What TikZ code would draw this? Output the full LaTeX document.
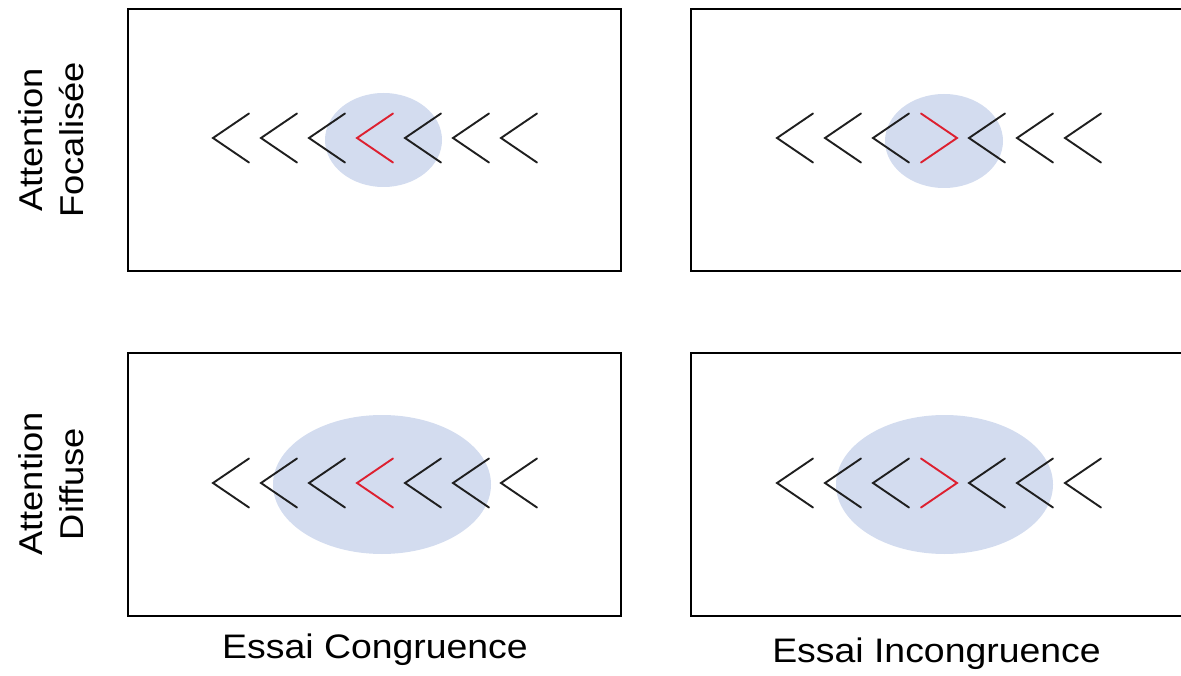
\documentclass[tikz,border=0pt]{standalone}
\usepackage{fontspec}
\setmainfont{Liberation Sans}
\newfontfamily\labelfont[FakeStretch=1.1]{Liberation Sans}
\usetikzlibrary{positioning}
\definecolor{spot}{RGB}{211,220,239}
\definecolor{flankred}{RGB}{221,32,48}

\begin{document}
\begin{tikzpicture}[
  x=1pt,y=-1pt,
  panel/.style={draw=black,line width=2.5pt},
  focus/.style={fill=spot,draw=none},
  chev/.style={draw=black!88,line width=1.9pt,line cap=round,line join=miter},
  target/.style={chev,draw=flankred},
  rowlab/.style={rotate=90,align=center,inner sep=0pt,
    font=\labelfont\fontsize{33}{41}\selectfont},
  collab/.style={anchor=base,inner sep=0pt,
    font=\labelfont\fontsize{34}{38}\selectfont}
]
\useasboundingbox (0,0) rectangle (1181,676);
% four trial panels (right ones run off the page)
\foreach \xa/\xb in {128/621,691/1195}{
  \foreach \ya/\yb in {9/271,353/616}{
    \draw[panel] (\xa,\ya) rectangle (\xb,\yb);
  }
}
% attention spotlights
\fill[focus] (383.5,140) ellipse [x radius=58.5,y radius=47];
\fill[focus] (944,141) ellipse [x radius=59,y radius=47];
\fill[focus] (382,484.5) ellipse [x radius=109,y radius=69.5];
\fill[focus] (944.5,484.5) ellipse [x radius=108.5,y radius=69.5];
% flanker chevrons
\foreach \ox/\oy in {213/138,777/138,213/483,777/483}{
  \foreach \k in {0,1,2,4,5,6}{
    \draw[chev] ({\ox+48*\k+36},{\oy-24.5}) -- ({\ox+48*\k},\oy) -- ({\ox+48*\k+36},{\oy+24.5});
  }
}
% central targets
\draw[target] (393,113.5) -- (357,138) -- (393,162.5);
\draw[target] (921,113.5) -- (957,138) -- (921,162.5);
\draw[target] (393,458.5) -- (357,483) -- (393,507.5);
\draw[target] (921,458.5) -- (957,483) -- (921,507.5);
% row labels
\node[rowlab] (focal) at (51,140) {Attention\\Focalisée};
\node[rowlab] (diffuse) at (51,484) {Attention\\Diffuse};
% column labels
\node[collab] (congr) at (375,658) {Essai Congruence};
\node[collab] (incongr) at (936.5,662) {Essai Incongruence};
\end{tikzpicture}
\end{document}
